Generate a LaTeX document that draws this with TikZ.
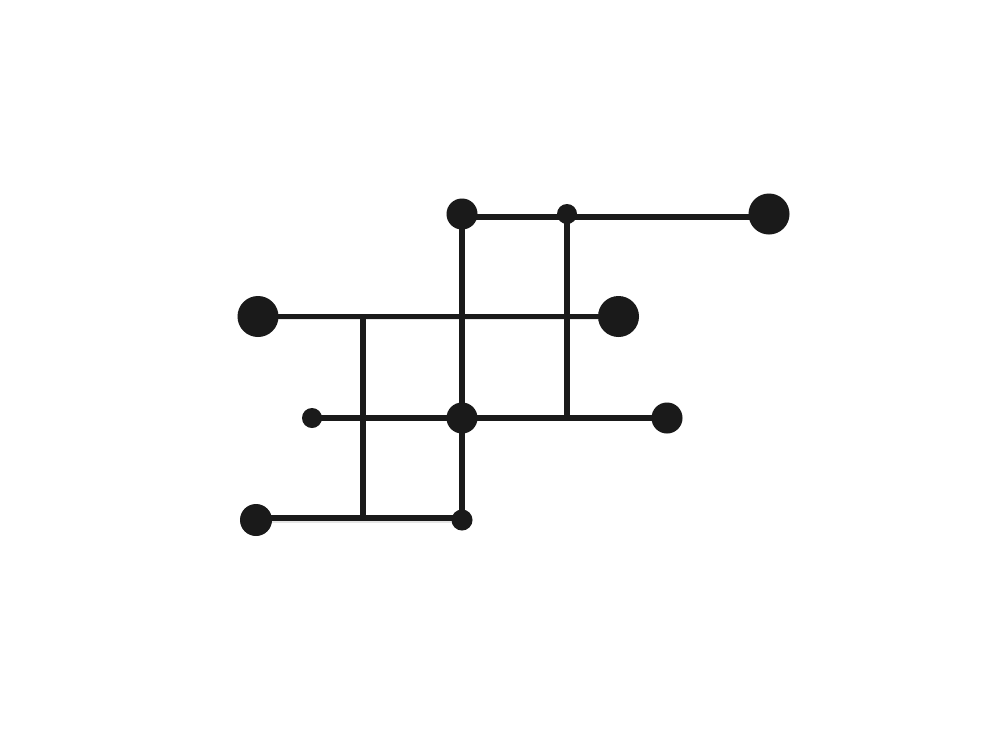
\documentclass[tikz,border=0pt]{standalone}
\begin{document}
\begin{tikzpicture}[x=1pt,y=-1pt,
  dot/.style={circle,fill=ink,inner sep=0pt,minimum size=#1},
  bar/.style={line width=5.5pt,draw=ink},
  shade/.style={line width=6pt,draw=black,opacity=0.10}]
\definecolor{ink}{HTML}{1A1A1A}
\useasboundingbox[fill=white] (0,0) rectangle (1000,750);
% coordinates
\coordinate (pA) at (462,214);
\coordinate (pB) at (567,214);
\coordinate (pC) at (769,214);
\coordinate (pD) at (258,316.5);
\coordinate (pE) at (618.5,316.5);
\coordinate (pF) at (312,418);
\coordinate (pG) at (462,418);
\coordinate (pH) at (667,418);
\coordinate (pI) at (256,520);
\coordinate (pJ) at (462,520);
\coordinate (jA) at (567,418);
\coordinate (jB) at (363,316.5);
\coordinate (jC) at (363,518);
\coordinate (tA) at (462,217);
\coordinate (tC) at (769,217);
% shadow
\begin{scope}[shift={(2,3)}]
  \foreach \a/\b in {tA/tC,pD/pE,pF/pH,pI/pJ,pA/pJ,pB/jA,jB/jC}
    \draw[shade] (\a) -- (\b);
  \foreach \p/\r in {pA/15.5,pB/10,pC/20.5,pD/20.5,pE/20.5,pF/10,pG/15.5,pH/15.5,pI/16,pJ/10.5}
    \fill[black,opacity=0.10] (\p) circle (\r);
\end{scope}
% bars
\draw[bar] (tA) -- (tC);
\draw[bar] (pD) -- (pE);
\draw[bar] (pF) -- (pH);
\draw[bar] (pI |- jC) -- (jC) -- (pJ |- jC);
\draw[bar] (pA) -- (pJ);
\draw[bar] (pB) -- (jA);
\draw[bar] (jB) -- (jC);
% dots
\node[dot=31pt] (nA) at (pA) {};
\node[dot=20pt] (nB) at (pB) {};
\node[dot=41pt] (nC) at (pC) {};
\node[dot=41pt] (nD) at (pD) {};
\node[dot=41pt] (nE) at (pE) {};
\node[dot=20pt] (nF) at (pF) {};
\node[dot=31pt] (nG) at (pG) {};
\node[dot=31pt] (nH) at (pH) {};
\node[dot=32pt] (nI) at (pI) {};
\node[dot=21pt] (nJ) at (pJ) {};
\end{tikzpicture}
\end{document}
